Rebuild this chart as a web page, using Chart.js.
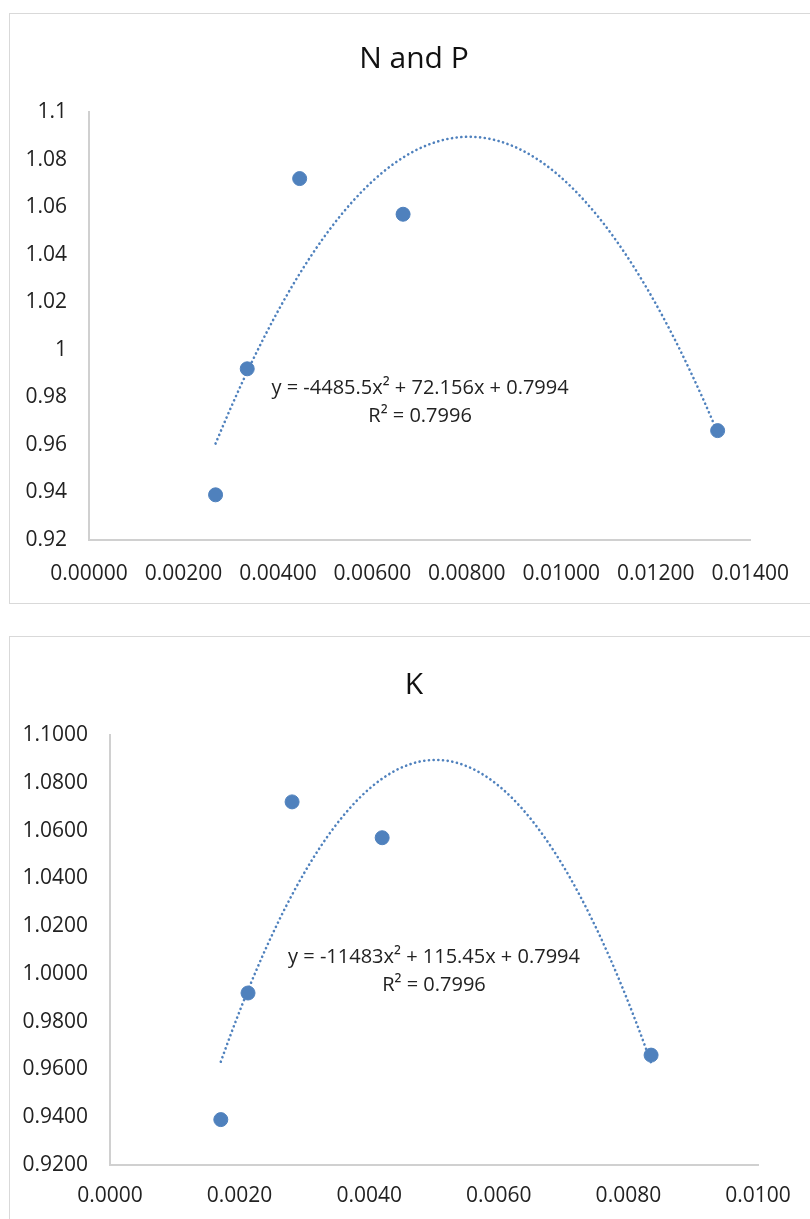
<!DOCTYPE html>
<html>
<head>
<meta charset="utf-8">
<title>N and P / K</title>
<script src="https://cdn.jsdelivr.net/npm/chart.js@4.4.1/dist/chart.umd.min.js"></script>
<style>
    html, body { margin: 0; padding: 0; background: #fff; overflow: hidden; }
    body { width: 810px; height: 1219px; position: relative; }
    .box { position: absolute; left: 9px; width: 820px; border: 1px solid #d9d9d9; background: #fff; }
    .wrap { position: absolute; left: 0; top: 0; width: 800px; }
    .title {
        position: absolute; left: 0; width: 808px; text-align: center;
        font-family: "Open Sans", "DejaVu Sans", sans-serif; font-size: 30px;
        color: #111; line-height: 36px;
    }
</style>
</head>
<body>
<div class="box" style="top:13px; height:589px;">
    <div class="wrap" style="height:589px;"><canvas id="chart-np"></canvas></div>
    <div class="title" style="top:25px;">N and P</div>
</div>
<div class="box" style="top:636px; height:600px;">
    <div class="wrap" style="height:582px;"><canvas id="chart-k"></canvas></div>
    <div class="title" style="top:28px;">K</div>
</div>
<script>
// ==================== DATOS ====================

// Chart 1: N and P
const npX = [0.00268, 0.00335, 0.00446, 0.00665, 0.01331];
const npY = [0.939, 0.992, 1.072, 1.057, 0.966];
const npCoef = [-4485.5, 72.156, 0.7994]; // a, b, c  (y = a x^2 + b x + c)
const npEquation = ['y = -4485.5x² + 72.156x + 0.7994', 'R² = 0.7996'];

// Chart 2: K
const kX = [0.00171, 0.00213, 0.00281, 0.00420, 0.00835];
const kY = [0.939, 0.992, 1.072, 1.057, 0.966];
const kCoef = [-11483, 115.45, 0.7994];
const kEquation = ['y = -11483x² + 115.45x + 0.7994', 'R² = 0.7996'];

const blue = '#4F81BD';
const font = '"Open Sans", "DejaVu Sans", sans-serif';

// Trendline points from the displayed equation, between the first and last point
function trendPoints(xs, coef) {
    const lo = Math.min(...xs), hi = Math.max(...xs);
    const pts = [];
    const n = 80;
    for (let i = 0; i <= n; i++) {
        const x = lo + (hi - lo) * i / n;
        pts.push({ x: x, y: coef[0] * x * x + coef[1] * x + coef[2] });
    }
    return pts;
}

// Equation label, anchored in data units
const equationPlugin = {
    id: 'equationLabel',
    afterDatasetsDraw(chart, args, opts) {
        const ctx = chart.ctx;
        const px = chart.scales.x.getPixelForValue(opts.at[0]);
        const py = chart.scales.y.getPixelForValue(opts.at[1]);
        ctx.save();
        ctx.font = '20px ' + font;
        ctx.fillStyle = '#222';
        ctx.textAlign = 'center';
        ctx.textBaseline = 'middle';
        opts.lines.forEach((t, i) => ctx.fillText(t, px, py + i * 28));
        ctx.restore();
    }
};

function makeChart(id, cfg) {
    return new Chart(document.getElementById(id), {
        type: 'scatter',
        data: {
            datasets: [{
                data: cfg.xs.map((x, i) => ({ x: x, y: cfg.ys[i] })),
                backgroundColor: blue,
                borderColor: blue,
                pointRadius: 7,
                pointHoverRadius: 7,
                order: 1
            }, {
                data: trendPoints(cfg.xs, cfg.coef),
                showLine: true,
                borderColor: blue,
                borderWidth: 2.6,
                borderDash: [0.1, 4.6],
                borderCapStyle: 'round',
                pointRadius: 0,
                tension: 0,
                order: 2
            }]
        },
        options: {
            responsive: true,
            maintainAspectRatio: false,
            animation: false,
            layout: { padding: { left: 0, right: cfg.padRight, top: cfg.padTop, bottom: 0 } },
            plugins: {
                legend: { display: false },
                tooltip: { enabled: false },
                title: { display: false },
                equationLabel: { at: cfg.labelAt, lines: cfg.equation }
            },
            scales: {
                x: {
                    type: 'linear',
                    min: cfg.xMin, max: cfg.xMax,
                    grid: { display: false, drawTicks: false },
                    border: { display: true, color: '#d0d0d0', width: 2 },
                    afterFit: (s) => { s.height = cfg.xHeight; },
                    ticks: {
                        stepSize: cfg.xStep,
                        padding: cfg.xPad,
                        color: '#222',
                        font: { family: font, size: 21 },
                        maxRotation: 0,
                        callback: (v) => v.toFixed(cfg.xDec)
                    }
                },
                y: {
                    type: 'linear',
                    min: 0.92, max: 1.1,
                    grid: { display: false, drawTicks: false },
                    border: { display: true, color: '#d0d0d0', width: 2 },
                    afterFit: (s) => { s.width = cfg.yWidth; },
                    ticks: {
                        stepSize: 0.02,
                        padding: 22,
                        color: '#222',
                        font: { family: font, size: 21 },
                        callback: cfg.yFormat
                    }
                }
            }
        },
        plugins: [equationPlugin]
    });
}

makeChart('chart-np', {
    xs: npX, ys: npY, coef: npCoef, equation: npEquation,
    labelAt: [0.00701, 0.9839],
    xMin: 0, xMax: 0.014, xStep: 0.002, xDec: 5,
    yFormat: (v) => String(Number(v.toFixed(2))),
    yWidth: 79, xHeight: 63, padRight: 56, padTop: 98, xPad: 21
});

makeChart('chart-k', {
    xs: kX, ys: kY, coef: kCoef, equation: kEquation,
    labelAt: [0.0050, 1.0071],
    xMin: 0, xMax: 0.01, xStep: 0.002, xDec: 4,
    yFormat: (v) => v.toFixed(4),
    yWidth: 100, xHeight: 54, padRight: 52, padTop: 98, xPad: 18
});
</script>
</body>
</html>
